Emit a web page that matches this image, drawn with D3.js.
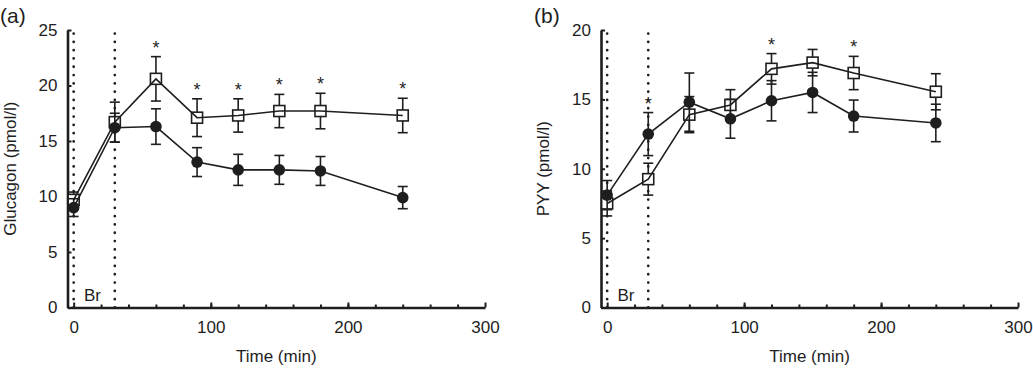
<!DOCTYPE html>
<html lang="en">
<head>
<meta charset="UTF-8">
<title>Glucagon and PYY over time</title>
<script src="https://d3js.org/d3.v7.min.js"></script>
<style>
    body { margin: 0; background: #fff; }
    text { font-family: "Liberation Sans", Arial, sans-serif; fill: #1e1e1e; }
    .axis path, .axis line { stroke: #1e1e1e; }
    .axis text { font-size: 17px; }
</style>
</head>
<body>
<svg id="chart" width="1033" height="368"></svg>
<script>
// time points (min)
const times = [0, 30, 60, 90, 120, 150, 180, 240];

// panel (a) glucagon, pmol/l
const glucagonSquare = [9.7, 16.7, 20.6, 17.1, 17.3, 17.7, 17.7, 17.3];
const glucagonSquareErr = [0.7, 1.8, 2.0, 1.7, 1.5, 1.5, 1.6, 1.55];
const glucagonCircle = [9.0, 16.2, 16.3, 13.1, 12.4, 12.4, 12.3, 9.9];
const glucagonCircleErr = [0.8, 1.3, 1.6, 1.3, 1.4, 1.3, 1.3, 1.0];
const glucagonStars = [0, 0, 1, 1, 1, 1, 1, 1];

// panel (b) PYY, pmol/l
const pyySquare = [7.5, 9.25, 13.9, 14.6, 17.2, 17.65, 16.9, 15.55];
const pyySquareErr = [0.9, 1.15, 1.3, 1.1, 1.1, 0.95, 1.2, 1.3];
const pyyCircle = [8.1, 12.5, 14.8, 13.6, 14.9, 15.5, 13.8, 13.3];
const pyyCircleErr = [1.05, 1.55, 2.1, 1.4, 1.45, 1.45, 1.15, 1.35];
const pyyStars = [0, 1, 0, 0, 1, 0, 1, 0];

// breakfast window markers
const breakfastLines = [0, 30];

const svg = d3.select("#chart");

const panels = [
    { tag: "(a)", label: "Glucagon (pmol/l)", left: 67.5, right: 485, yMax: 25,
      sq: glucagonSquare, sqErr: glucagonSquareErr, ci: glucagonCircle, ciErr: glucagonCircleErr,
      stars: glucagonStars, tagX: 0, labelX: 16 },
    { tag: "(b)", label: "PYY (pmol/l)", left: 601, right: 1018, yMax: 20,
      sq: pyySquare, sqErr: pyySquareErr, ci: pyyCircle, ciErr: pyyCircleErr,
      stars: pyyStars, tagX: 534, labelX: 549 }
];

const plotTop = 30, plotBottom = 307.5;

panels.forEach(p => {
    const x = d3.scaleLinear().domain([-4.5, 300]).range([p.left, p.right]);
    const y = d3.scaleLinear().domain([0, p.yMax]).range([plotBottom, plotTop]);
    const g = svg.append("g");

    // dotted breakfast lines
    g.selectAll(".br-line")
        .data(breakfastLines)
        .enter().append("line")
        .attr("x1", d => x(d)).attr("x2", d => x(d))
        .attr("y1", plotBottom).attr("y2", plotTop)
        .attr("stroke", "#1e1e1e")
        .attr("stroke-width", 2.7)
        .attr("stroke-linecap", "round")
        .attr("stroke-dasharray", "0.1,8.2");

    g.append("text")
        .attr("x", x(7.5))
        .attr("y", 300.5)
        .style("font-size", "17px")
        .text("Br");

    // minor x ticks
    g.append("g")
        .attr("class", "axis")
        .attr("transform", `translate(0,${plotBottom})`)
        .call(d3.axisBottom(x).tickValues(d3.range(20, 300, 20)).tickSizeInner(-3).tickSizeOuter(0).tickFormat(""))
        .call(a => a.select(".domain").remove())
        .selectAll("line").attr("stroke-width", 2);

    // main x axis
    const xAxis = g.append("g")
        .attr("class", "axis")
        .attr("transform", `translate(0,${plotBottom})`)
        .call(d3.axisBottom(x).tickValues([0, 100, 200, 300]).tickSizeInner(-5).tickSizeOuter(0).tickPadding(13));
    xAxis.select(".domain").attr("stroke-width", 2.6);
    xAxis.selectAll("line").attr("stroke-width", 2);

    g.append("text")
        .attr("x", (p.left + p.right) / 2)
        .attr("y", 362)
        .attr("text-anchor", "middle")
        .style("font-size", "17px")
        .text("Time (min)");

    // y axis
    const yAxis = g.append("g")
        .attr("class", "axis")
        .attr("transform", `translate(${p.left},0)`)
        .call(d3.axisLeft(y).ticks(p.yMax / 5).tickSizeInner(-4).tickSizeOuter(0).tickPadding(10));
    yAxis.select(".domain").attr("stroke-width", 2.6);
    yAxis.selectAll("line").attr("stroke-width", 2);

    g.append("text")
        .attr("transform", `translate(${p.labelX},${(plotTop + plotBottom) / 2}) rotate(-90)`)
        .attr("text-anchor", "middle")
        .style("font-size", "17px")
        .text(p.label);

    g.append("text")
        .attr("x", p.tagX)
        .attr("y", 22.5)
        .style("font-size", "21px")
        .text(p.tag);

    const line = d3.line().x(d => x(d.t)).y(d => y(d.v));
    const sqData = times.map((t, i) => ({ t, v: p.sq[i], e: p.sqErr[i] }));
    const ciData = times.map((t, i) => ({ t, v: p.ci[i], e: p.ciErr[i] }));

    function errorBars(data) {
        const eb = g.append("g").attr("stroke", "#1e1e1e").attr("stroke-width", 1.6);
        data.forEach(d => {
            eb.append("line").attr("x1", x(d.t)).attr("x2", x(d.t))
                .attr("y1", y(d.v - d.e)).attr("y2", y(d.v + d.e));
            [d.v - d.e, d.v + d.e].forEach(v => {
                eb.append("line").attr("x1", x(d.t) - 5).attr("x2", x(d.t) + 5)
                    .attr("y1", y(v)).attr("y2", y(v));
            });
        });
    }

    // open squares series
    errorBars(sqData);
    g.selectAll(".sq")
        .data(sqData)
        .enter().append("rect")
        .attr("x", d => x(d.t) - 5.5)
        .attr("y", d => y(d.v) - 5.5)
        .attr("width", 11).attr("height", 11)
        .attr("fill", "#fff")
        .attr("stroke", "#1e1e1e")
        .attr("stroke-width", 1.6);
    g.append("path")
        .datum(sqData)
        .attr("d", line)
        .attr("fill", "none")
        .attr("stroke", "#1e1e1e")
        .attr("stroke-width", 1.6);

    // filled circles series
    errorBars(ciData);
    g.append("path")
        .datum(ciData)
        .attr("d", line)
        .attr("fill", "none")
        .attr("stroke", "#1e1e1e")
        .attr("stroke-width", 1.6);
    g.selectAll(".ci")
        .data(ciData)
        .enter().append("circle")
        .attr("cx", d => x(d.t))
        .attr("cy", d => y(d.v))
        .attr("r", 5.8)
        .attr("fill", "#1e1e1e");

    // significance stars
    times.forEach((t, i) => {
        if (!p.stars[i]) return;
        const upper = Math.max(p.sq[i] + p.sqErr[i], p.ci[i] + p.ciErr[i]);
        g.append("text")
            .attr("x", x(t))
            .attr("y", y(upper) - 13 + 10)
            .attr("text-anchor", "middle")
            .style("font-size", "18px")
            .text("*");
    });
});
</script>
</body>
</html>
